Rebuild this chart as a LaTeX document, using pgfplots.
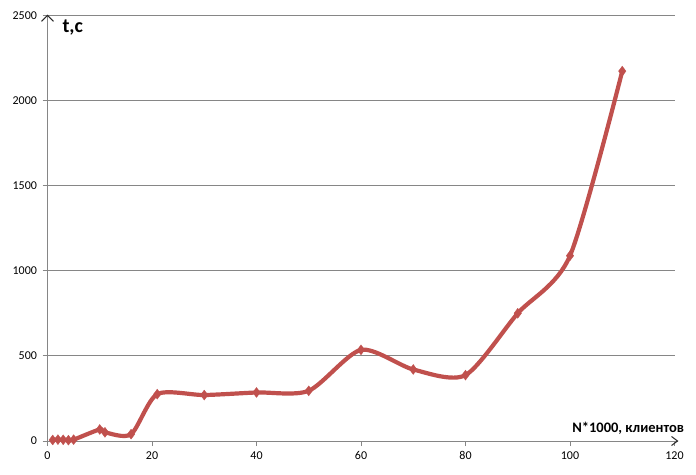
\documentclass[border=0pt]{standalone}
\usepackage{pgfplots}
\pgfplotsset{compat=1.18}
\usepackage{fontspec}
\setmainfont{Carlito}
\definecolor{exred}{RGB}{192,80,77}
\definecolor{gridgray}{RGB}{134,134,134}
\definecolor{arrgray}{RGB}{40,40,40}
\begin{document}
\begin{tikzpicture}[x=1pt,y=1pt]
\useasboundingbox (-47.5,-33) rectangle (648.5,441);
\begin{axis}[
  at={(0,0)}, anchor=south west,
  scale only axis, width=627pt, height=425.7pt,
  xmin=0, xmax=120, ymin=0, ymax=2500,
  axis x line*=bottom, axis y line*=left,
  axis line style={gridgray, line width=0.8pt},
  xtick={0,20,...,120}, ytick={0,500,...,2500},
  ymajorgrids, grid style={gridgray, line width=0.8pt},
  tick align=outside, major tick length=5pt,
  tick style={gridgray, line width=0.8pt},
  /pgf/number format/assume math mode=true,
  /pgf/number format/1000 sep={},
  tick label style={font=\fontsize{12}{13}\selectfont, black},
  yticklabel style={xshift=-2pt},
  xticklabel style={yshift=-2pt},
  clip=false,
]
\addplot[exred, line width=4.2pt, smooth, tension=0.45, mark=diamond*, mark size=5pt, mark options={exred, line width=0.3pt}] coordinates {
(1,6) (2,8) (3,7) (4,5) (5,8) (10,68) (11,51) (16,40) (21,275) (30,270) (40,285) (50,295) (60,535) (70,420) (80,387) (90,750) (100,1088) (110,2172)
};
\node[anchor=base west, font=\fontsize{20}{22}\bfseries\selectfont] at (axis cs:2.2,2398) {t,c};
\node[anchor=base east, font=\fontsize{14.5}{16}\bfseries\selectfont] at (axis cs:122.5,49) {N*1000, клиентов};
\end{axis}
\draw[gridgray, line width=0.9pt] (627,0) -- (630,0);
\draw[arrgray, line width=1pt, line join=miter] (-6,419.7) -- (0,425.7) -- (6,419.7);
\draw[arrgray, line width=1pt, line join=miter] (624,4.5) -- (630,0) -- (624,-4.5);
\end{tikzpicture}
\end{document}
